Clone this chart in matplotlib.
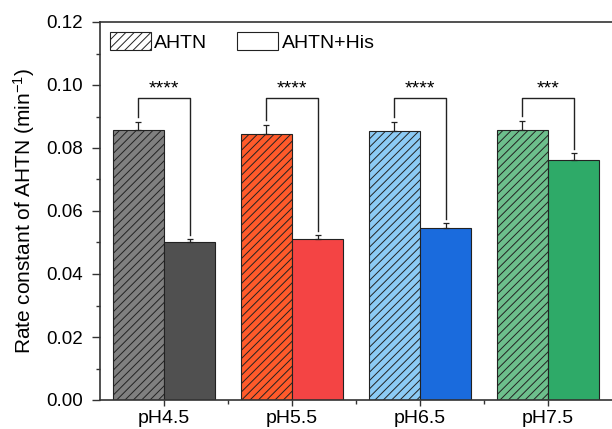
import matplotlib
matplotlib.use("Agg")
from matplotlib import pyplot as plt
from matplotlib.patches import Patch
import numpy as np

plt.rcParams['font.family'] = ['Liberation Sans', 'DejaVu Sans']
plt.rcParams['mathtext.default'] = 'regular'
plt.rcParams['hatch.linewidth'] = 0.7

groups = ['pH4.5', 'pH5.5', 'pH6.5', 'pH7.5']
ahtn = [0.0857, 0.0845, 0.0853, 0.0857]
ahtn_err = [0.0026, 0.0029, 0.0031, 0.0030]
his = [0.0502, 0.0510, 0.0547, 0.0761]
his_err = [0.0009, 0.0013, 0.0016, 0.0024]
stars = ['****', '****', '****', '***']

ahtn_colors = ['#808080', '#FF5A2A', '#8CCBF5', '#6DBF8C']
his_colors = ['#505050', '#F44444', '#1A6BDD', '#2EAA68']

x = np.arange(1, len(groups) + 1)
w = 0.4

fig = plt.figure(figsize=(6.12, 4.29), dpi=100)
ax = fig.add_axes([100/612, 29/429, 512/612, 378/429])

ax.bar(x - w/2, ahtn, w, color=ahtn_colors, edgecolor='#222222', linewidth=0.8,
       hatch='////', zorder=2)
ax.bar(x + w/2, his, w, color=his_colors, edgecolor='#222222', linewidth=0.8, zorder=2)
ax.errorbar(x - w/2, ahtn, yerr=[np.zeros(4), ahtn_err], fmt='none', ecolor='#222222',
            elinewidth=0.9, capsize=2.5, capthick=0.9, zorder=3)
ax.errorbar(x + w/2, his, yerr=[np.zeros(4), his_err], fmt='none', ecolor='#222222',
            elinewidth=0.9, capsize=2.5, capthick=0.9, zorder=3)

# significance brackets
top = 0.0960
for i in range(len(groups)):
    y1 = ahtn[i] + ahtn_err[i] + 0.0015
    y2 = his[i] + his_err[i] + 0.0013
    ax.plot([x[i] - w/2, x[i] - w/2, x[i] + w/2, x[i] + w/2], [y1, top, top, y2],
            color='#222222', linewidth=1.0, zorder=3)
    ax.text(x[i], top + 0.0002, stars[i], ha='center', va='bottom', fontsize=14)

ax.set_xlim(0.5, 4.5)
ax.set_ylim(0, 0.12)
ax.set_xticks(x)
ax.set_xticklabels(groups)
ax.set_xticks(x[:-1] + 0.5, minor=True)
ax.set_yticks(np.arange(0, 0.121, 0.02))
ax.set_yticks(np.arange(0.01, 0.12, 0.02), minor=True)
ax.yaxis.set_major_formatter(plt.FormatStrFormatter('%.2f'))
ax.tick_params(axis='y', which='major', labelsize=13.5, length=6, width=1, pad=6,
               color='#333333')
ax.tick_params(axis='x', which='major', labelsize=14, length=4, width=1, pad=3,
               color='#333333')
ax.tick_params(axis='both', which='minor', length=3, width=1, color='#333333')
for s in ['left', 'bottom', 'top']:
    ax.spines[s].set_linewidth(1.2)
    ax.spines[s].set_color('#333333')
ax.spines['right'].set_visible(False)
ax.set_ylabel('Rate constant of AHTN (min$^{-1}$)', fontsize=15, labelpad=7)

handles = [Patch(facecolor='white', edgecolor='#222222', hatch='////', linewidth=0.8),
           Patch(facecolor='white', edgecolor='#222222', linewidth=0.8)]
ax.legend(handles, ['AHTN', 'AHTN+His'], ncol=2, loc='upper left', frameon=False,
          fontsize=14, handlelength=2.1, handleheight=1.1, handletextpad=0.2,
          columnspacing=1.5, borderaxespad=0.1)

fig.savefig('out.png', dpi=100)
